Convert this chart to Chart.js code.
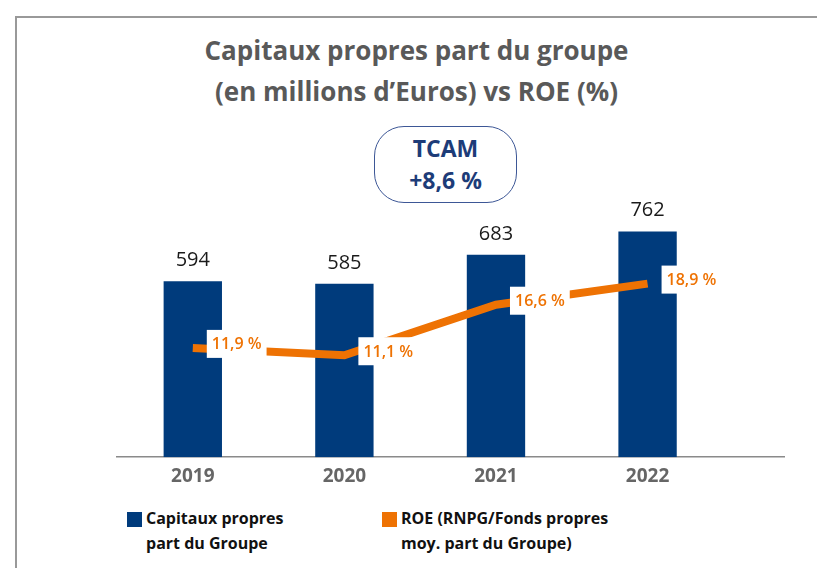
<!DOCTYPE html>
<html>
<head>
<meta charset="utf-8">
<script src="https://cdn.jsdelivr.net/npm/chart.js@4"></script>
<style>
  body { margin: 0; width: 817px; height: 568px; position: relative; overflow: hidden; background: #fff; font-family: "Open Sans", sans-serif; }
  .card { position: absolute; left: 15px; top: 16px; right: -10px; bottom: -10px; border-left: 2px solid #999; border-top: 2px solid #999; }
  .title { position: absolute; left: 16px; right: 0; top: 30px; text-align: center; color: #595959; font-weight: 700; font-size: 26px; line-height: 41px; }
  .tcam { position: absolute; left: 374px; top: 126px; width: 143px; height: 77px; box-sizing: border-box; border: 1.5px solid #3d5796; border-radius: 30px; color: #1d3c78; font-weight: 700; font-size: 23px; line-height: 32px; text-align: center; padding-top: 5px; }
  .legend { position: absolute; top: 506px; font-weight: 700; font-size: 16px; line-height: 25px; color: #111; }
  .legend .sq { position: absolute; left: 0; top: 6px; width: 15px; height: 15px; }
  .legend .txt { margin-left: 19px; }
  #chart { position: absolute; left: 0; top: 0; }
</style>
</head>
<body>
<div class="card"></div>
<div class="title">Capitaux propres part du groupe<br>(en millions d’Euros) vs ROE (%)</div>
<div class="tcam">TCAM<br>+8,6 %</div>
<div class="legend" style="left:127px"><span class="sq" style="background:#003b7c"></span><div class="txt">Capitaux propres<br>part du Groupe</div></div>
<div class="legend" style="left:382px"><span class="sq" style="background:#ee7203"></span><div class="txt">ROE (RNPG/Fonds propres<br>moy. part du Groupe)</div></div>
<canvas id="chart" width="817" height="568"></canvas>
<script>
const years = ['2019', '2020', '2021', '2022'];
const capitaux = [594, 585, 683, 762];
const roe = [11.9, 11.1, 16.6, 18.9];

const navy = '#003b7c';
const orange = '#ee7203';

// value labels above bars and boxed ROE labels next to the line
const labelPlugin = {
    id: 'valueLabels',
    afterDatasetsDraw(chart) {
        const ctx = chart.ctx;
        ctx.save();
        ctx.textBaseline = 'middle';

        ctx.font = '500 20px "Open Sans"';
        ctx.fillStyle = '#1a1a1a';
        ctx.textAlign = 'center';
        chart.getDatasetMeta(0).data.forEach((bar, i) => {
            ctx.fillText(String(capitaux[i]), bar.x, bar.y - 21);
        });

        ctx.font = '600 16px "Open Sans"';
        ctx.textAlign = 'left';
        chart.getDatasetMeta(1).data.forEach((pt, i) => {
            const text = roe[i].toFixed(1).replace('.', ',') + ' %';
            const w = ctx.measureText(text).width + 10;
            const x = pt.x + 14;
            const y = pt.y - 4;
            ctx.fillStyle = '#fff';
            ctx.fillRect(x, y - 14, w, 28);
            ctx.fillStyle = orange;
            ctx.fillText(text, x + 5, y + 1);
        });
        ctx.restore();
    }
};

Chart.defaults.font.family = '"Open Sans", sans-serif';

new Chart(document.getElementById('chart'), {
    type: 'bar',
    data: {
        datasets: [{
            type: 'bar',
            label: 'Capitaux propres part du Groupe',
            data: capitaux.map((v, i) => ({ x: i, y: v })),
            backgroundColor: navy,
            categoryPercentage: 1,
            barPercentage: 0.385,
            yAxisID: 'y',
            order: 1
        }, {
            type: 'line',
            label: 'ROE (RNPG/Fonds propres moy. part du Groupe)',
            data: roe.map((v, i) => ({ x: i, y: v })),
            borderColor: orange,
            borderWidth: 8,
            pointRadius: 0,
            tension: 0,
            yAxisID: 'y2',
            order: 0
        }]
    },
    options: {
        responsive: false,
        animation: false,
        layout: { padding: { left: 117, right: 33, top: 200, bottom: 72 } },
        plugins: {
            legend: { display: false },
            tooltip: { enabled: false }
        },
        scales: {
            x: {
                type: 'linear',
                min: -0.5,
                max: 3.9,
                offset: false,
                afterBuildTicks: (axis) => { axis.ticks = years.map((_, i) => ({ value: i })); },
                grid: { display: false, drawTicks: false },
                border: { display: true, color: '#8a8a8a', width: 1.5 },
                ticks: {
                    callback: (v) => years[v],
                    color: '#666',
                    font: { size: 19, weight: 'bold' },
                    padding: 8,
                    maxRotation: 0
                }
            },
            y: { display: false, min: 0, max: 868 },
            y2: { display: false, min: 0, max: 28 }
        }
    },
    plugins: [labelPlugin]
});
</script>
</body>
</html>
